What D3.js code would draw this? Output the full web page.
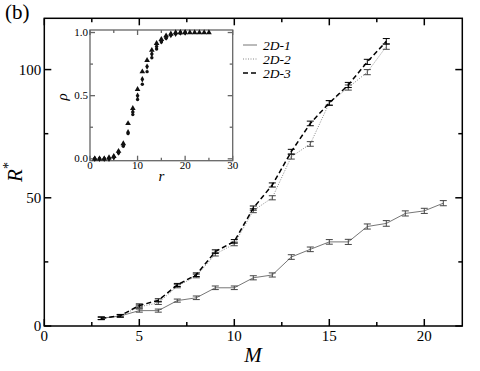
<!DOCTYPE html>
<html>
<head>
<meta charset="utf-8">
<script src="https://cdn.jsdelivr.net/npm/d3@7"></script>
<style>
body{margin:0;background:#fff}
</style>
</head>
<body>
<svg></svg>
<script>
// main plot data
let M1=[3,4,5,6,7,8,9,10,11,12,13,14,15,16,17,18,19,20,21]
let R1=[3,3.9,6,6,9.9,11,14.9,14.9,18.8,19.9,26.9,29.9,32.8,32.8,38.8,40,43.9,44.9,47.9]
let M2=[3,4,5,6,7,8,9,10,11,12,13,14,15,16,17,18]
let R2=[3,4,7.5,9,15.5,19.5,28,32,45,50,66,71,87,93,99,109]
let R3=[3,4,8,10,16,20,29,33,46,55,68,79,87,94,103,111]
let errs=[0.5,0.5,0.6,0.6,0.6,0.7,0.7,0.7,0.8,0.8,0.9,0.9,0.9,1,1,1.1,1,1,1]
let seriesNames=['2D-1','2D-2','2D-3']

// inset data
let rA=[1,2,3,4,5,6,7,8,9,10,11,12,13,14,15,16,17,18,19,20,21,22,23,24,25]
let rhoA=[0,0,0,0.01,0.02,0.06,0.12,0.28,0.4,0.55,0.69,0.78,0.86,0.915,0.946,0.975,0.99,1,1,1,1,1,1,1,1]
let rB=[1,2,3,4,5,6,7,8,9,10,11,12,13,14,15,16,17,18,19,20]
let rhoB=[0,0,0,0,0.015,0.05,0.11,0.21,0.37,0.5,0.63,0.73,0.83,0.89,0.93,0.96,0.98,0.99,1,1]
let rhoC=[0,0,0,0,0.01,0.045,0.1,0.2,0.35,0.47,0.59,0.69,0.8,0.87,0.925,0.955,0.98,0.99,0.995,1]

let width=480
let height=371
let padL=44.3, padR=462.3, padT=18.3, padB=326

let svg=d3.select('svg').attr('width',width).attr('height',height)
    .style('display','block')
    .style('font-family','"Liberation Serif", "Times New Roman", "DejaVu Serif", serif')

let xScale=d3.scaleLinear().domain([0,22]).range([padL,padR])
let yScale=d3.scaleLinear().domain([0,120]).range([padB,padT])

// ticks on all four sides, pointing inward
let drawTicks=(x,y,xMaj,xMin,yMaj,yMin,maj,mnr,col,sw)=>{
    let g=svg.append('g').attr('stroke',col).attr('stroke-width',sw)
    let x0=x.range()[0],x1=x.range()[1],y0=y.range()[0],y1=y.range()[1]
    xMaj.forEach(v=>{
        g.append('line').attr('x1',x(v)).attr('x2',x(v)).attr('y1',y0).attr('y2',y0-maj)
        g.append('line').attr('x1',x(v)).attr('x2',x(v)).attr('y1',y1).attr('y2',y1+maj)
    })
    xMin.forEach(v=>{
        g.append('line').attr('x1',x(v)).attr('x2',x(v)).attr('y1',y0).attr('y2',y0-mnr)
        g.append('line').attr('x1',x(v)).attr('x2',x(v)).attr('y1',y1).attr('y2',y1+mnr)
    })
    yMaj.forEach(v=>{
        g.append('line').attr('y1',y(v)).attr('y2',y(v)).attr('x1',x0).attr('x2',x0+maj)
        g.append('line').attr('y1',y(v)).attr('y2',y(v)).attr('x1',x1).attr('x2',x1-maj)
    })
    yMin.forEach(v=>{
        g.append('line').attr('y1',y(v)).attr('y2',y(v)).attr('x1',x0).attr('x2',x0+mnr)
        g.append('line').attr('y1',y(v)).attr('y2',y(v)).attr('x1',x1).attr('x2',x1-mnr)
    })
    g.append('rect').attr('x',x0).attr('y',y1).attr('width',x1-x0).attr('height',y0-y1).attr('fill','none')
}

drawTicks(xScale,yScale,[0,5,10,15,20],[2.5,7.5,12.5,17.5],[0,50,100],[25,75],7,4,'#000',1.5)

// tick labels
let xTicks=[0,5,10,15,20]
let yTicks=[0,50,100]
svg.append('g').selectAll('text').data(xTicks).enter().append('text')
    .attr('x',d=>xScale(d)).attr('y',341).attr('text-anchor','middle')
    .attr('font-size',15).text(d=>d)
svg.append('g').selectAll('text').data(yTicks).enter().append('text')
    .attr('x',padL-3).attr('y',d=>yScale(d)+5).attr('text-anchor','end')
    .attr('font-size',15).text(d=>d)

svg.append('text').attr('x',253).attr('y',362).attr('text-anchor','middle')
    .attr('font-size',21).attr('font-style','italic').text('M')
let yl=svg.append('text').attr('transform','translate(22,172) rotate(-90)')
    .attr('text-anchor','middle').attr('font-size',21)
yl.append('tspan').attr('font-style','italic').text('R')
yl.append('tspan').attr('font-size',14).attr('dy',-9).text('*')

svg.append('text').attr('x',5).attr('y',19).attr('font-size',21).text('(b)')

// series lines
let styles=[
    {stroke:'#777',dash:null,sw:1},
    {stroke:'#888',dash:'1,1.5',sw:1},
    {stroke:'#000',dash:'5,3',sw:1.5}
]
let series=[
    {m:M1,r:R1},
    {m:M2,r:R2},
    {m:M2,r:R3}
]
let line=d3.line().x(d=>xScale(d[0])).y(d=>yScale(d[1]))

series.forEach((s,i)=>{
    let pts=s.m.map((m,j)=>[m,s.r[j],errs[j]])
    let st=styles[i]
    svg.append('path').datum(pts).attr('d',line)
        .attr('fill','none').attr('stroke',st.stroke).attr('stroke-width',st.sw)
        .attr('stroke-dasharray',st.dash)
    let eb=svg.append('g').attr('stroke',i==2?'#000':'#444').attr('stroke-width',1)
    eb.selectAll('line.v').data(pts).enter().append('line')
        .attr('x1',d=>xScale(d[0])).attr('x2',d=>xScale(d[0]))
        .attr('y1',d=>yScale(d[1]-d[2])).attr('y2',d=>yScale(d[1]+d[2]))
    eb.selectAll('line.t').data(pts).enter().append('line')
        .attr('x1',d=>xScale(d[0])-3.5).attr('x2',d=>xScale(d[0])+3.5)
        .attr('y1',d=>yScale(d[1]+d[2])).attr('y2',d=>yScale(d[1]+d[2]))
    eb.selectAll('line.b').data(pts).enter().append('line')
        .attr('x1',d=>xScale(d[0])-3.5).attr('x2',d=>xScale(d[0])+3.5)
        .attr('y1',d=>yScale(d[1]-d[2])).attr('y2',d=>yScale(d[1]-d[2]))
})

// legend
seriesNames.forEach((name,i)=>{
    let y=45+i*14
    let st=styles[i]
    svg.append('line').attr('x1',243).attr('x2',257).attr('y1',y).attr('y2',y)
        .attr('stroke',st.stroke).attr('stroke-width',st.sw).attr('stroke-dasharray',st.dash)
    svg.append('text').attr('x',263).attr('y',y+4.5).attr('font-size',13.5)
        .attr('font-style','italic').text(name)
})

// inset
let ixScale=d3.scaleLinear().domain([0,30]).range([90,232.7])
let iyScale=d3.scaleLinear().domain([-0.015,1.02]).range([160.7,30])
svg.append('rect').attr('x',90).attr('y',30).attr('width',142.7).attr('height',130.7).attr('fill','#fff')
drawTicks(ixScale,iyScale,[0,10,20,30],[5,15,25],[0,0.5,1],[0.25,0.75],5,3,'#666',1.3)

svg.append('g').selectAll('text').data([0,10,20,30]).enter().append('text')
    .attr('x',d=>ixScale(d)).attr('y',169).attr('text-anchor','middle')
    .attr('font-size',11).text(d=>d)
svg.append('g').selectAll('text').data([0,0.5,1]).enter().append('text')
    .attr('x',88).attr('y',d=>iyScale(d)+3.5).attr('text-anchor','end')
    .attr('font-size',11).text(d=>d.toFixed(1))
svg.append('text').attr('x',161.5).attr('y',181).attr('text-anchor','middle')
    .attr('font-size',15).attr('font-style','italic').text('r')
svg.append('text').attr('transform','translate(67,97) rotate(-90)').attr('text-anchor','middle')
    .attr('font-size',15).attr('font-style','italic').text('ρ')

let tri=d3.symbol().type(d3.symbolTriangle).size(14)
let dia=d3.symbol().type(d3.symbolDiamond).size(12)
let cir=d3.symbol().type(d3.symbolCircle).size(9)
let inset=[
    {r:rA,v:rhoA,sym:tri},
    {r:rB,v:rhoB,sym:dia},
    {r:rB,v:rhoC,sym:cir}
]
inset.forEach(s=>{
    svg.append('g').selectAll('path').data(s.r.map((r,j)=>[r,s.v[j]])).enter().append('path')
        .attr('d',s.sym)
        .attr('transform',d=>'translate('+ixScale(d[0])+','+iyScale(d[1])+')')
        .attr('fill','#111')
})
</script>
</body>
</html>
